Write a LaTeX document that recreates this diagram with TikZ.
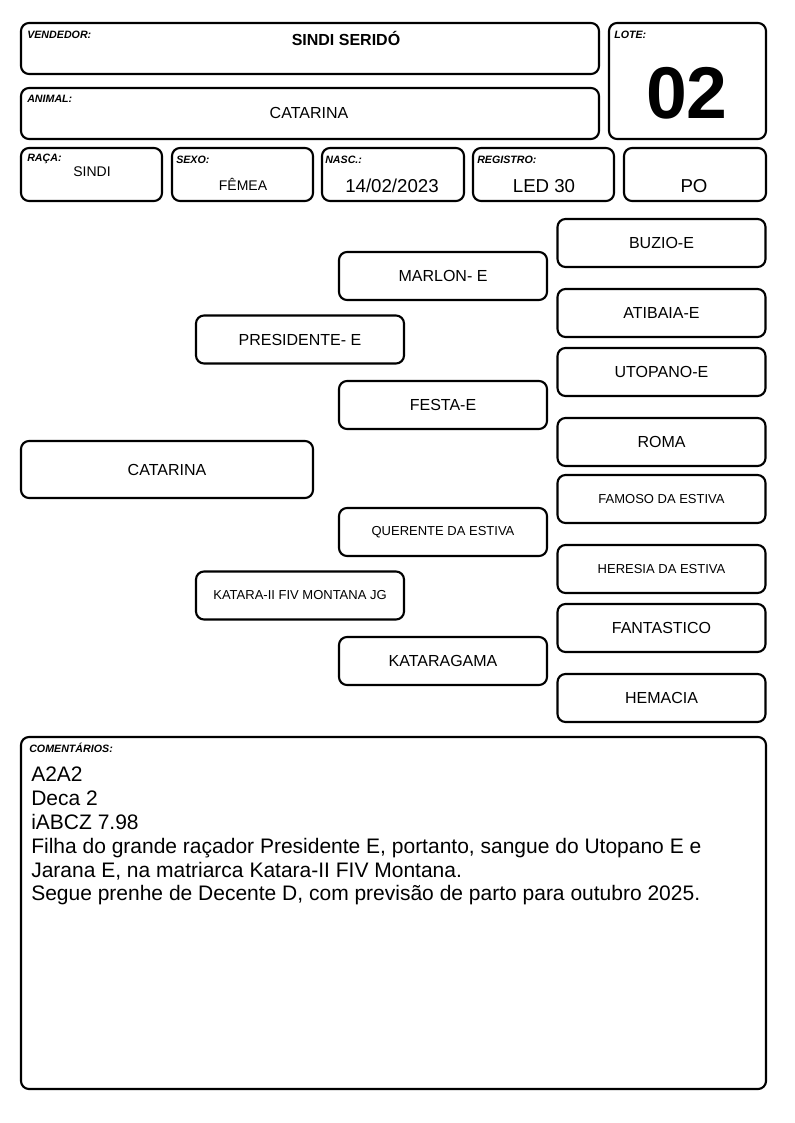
\documentclass[tikz,border=0pt]{standalone}
\usepackage{fontspec}
\setmainfont{Liberation Sans}
\usepackage{tikz}

\begin{document}
\begin{tikzpicture}[x=0.75pt, y=-0.75pt]
    \tikzstyle{campo} = [rectangle, draw, rounded corners=6pt, line width=1.6pt, inner sep=0pt]
    \tikzstyle{pedbox} = [campo, minimum width=156pt, minimum height=36pt, font=\fontsize{12}{14}\selectfont]
    \tikzstyle{pedsmall} = [pedbox, font=\fontsize{9.75}{11}\selectfont]
    \tikzstyle{rotulo} = [anchor=west, inner sep=0pt, font=\fontsize{8}{9}\selectfont\bfseries\itshape]
    \tikzstyle{valor} = [inner sep=0pt]
    \tikzset{wh/.style 2 args={minimum width=#1*0.75pt, minimum height=#2*0.75pt}}

    \useasboundingbox (0,0) rectangle (794,1123);

    % Header
    \node[campo, wh={578}{51}] (vend) at (310,48.5) {};
    \node[campo, wh={157}{116}] (lote) at (687.5,81) {};
    \node[campo, wh={578}{51}] (animal) at (310,113.5) {};
    \node[campo, wh={141}{53}] (raca) at (91.5,174.5) {};
    \node[campo, wh={141}{53}] (sexo) at (242.5,174.5) {};
    \node[campo, wh={142}{53}] (nasc) at (393,174.5) {};
    \node[campo, wh={141}{53}] (registro) at (543.5,174.5) {};
    \node[campo, wh={142}{53}] (po) at (695,174.5) {};

    \node[rotulo] (lvend) at (27,35) {VENDEDOR:};
    \node[rotulo] (llote) at (614,35) {LOTE:};
    \node[rotulo] (lanimal) at (27,99) {ANIMAL:};
    \node[rotulo] (lraca) at (27,159) {RAÇA:};
    \node[rotulo] (lsexo) at (176,160) {SEXO:};
    \node[rotulo] (lnasc) at (325,160) {NASC.:};
    \node[rotulo] (lregistro) at (477,160) {REGISTRO:};

    \node[valor, font=\fontsize{12}{14}\selectfont\bfseries] (vvend) at (346,38) {SINDI SERIDÓ};
    \node[valor, font=\fontsize{55}{60}\selectfont\bfseries] (vlote) at (687,93) {02};
    \node[valor, font=\fontsize{12}{14}\selectfont] (vanimal) at (309,113) {CATARINA};
    \node[valor, font=\fontsize{10.5}{12}\selectfont] (vraca) at (92,172) {SINDI};
    \node[valor, font=\fontsize{10.5}{12}\selectfont] (vsexo) at (243,184) {FÊMEA};
    \node[valor, font=\fontsize{14}{16}\selectfont] (vnasc) at (392,186) {14/02/2023};
    \node[valor, font=\fontsize{14}{16}\selectfont] (vregistro) at (544,186) {LED 30};
    \node[valor, font=\fontsize{14}{16}\selectfont] (vpo) at (694,186) {PO};

    % Pedigree
    \node[pedbox, wh={292}{57}] (cat) at (167,469.5) {CATARINA};
    \node[pedbox] (pres) at (300,339.5) {PRESIDENTE- E};
    \node[pedsmall] (katara) at (300,595.5) {KATARA-II FIV MONTANA JG};
    \node[pedbox] (marlon) at (443,276) {MARLON- E};
    \node[pedbox] (festa) at (443,405) {FESTA-E};
    \node[pedsmall] (querente) at (443,532) {QUERENTE DA ESTIVA};
    \node[pedbox] (kataragama) at (443,661) {KATARAGAMA};
    \node[pedbox] (buzio) at (661.5,243) {BUZIO-E};
    \node[pedbox] (atibaia) at (661.5,313) {ATIBAIA-E};
    \node[pedbox] (utopano) at (661.5,372) {UTOPANO-E};
    \node[pedbox] (roma) at (661.5,442) {ROMA};
    \node[pedsmall] (famoso) at (661.5,499) {FAMOSO DA ESTIVA};
    \node[pedsmall] (heresia) at (661.5,569) {HERESIA DA ESTIVA};
    \node[pedbox] (fantastico) at (661.5,628) {FANTASTICO};
    \node[pedbox] (hemacia) at (661.5,698) {HEMACIA};

    % Comments
    \node[campo, wh={745}{352}] (coment) at (393.5,913) {};
    \node[rotulo] (lcoment) at (29,748) {COMENTÁRIOS:};
    \node[anchor=north west, inner sep=0pt, align=left, font=\fontsize{15.75}{17.85}\selectfont] (tcoment) at (31,767) {A2A2\\
        Deca 2\\
        iABCZ 7.98\\
        Filha do grande raçador Presidente E, portanto, sangue do Utopano E e\\
        Jarana E, na matriarca Katara-II FIV Montana.\\
        Segue prenhe de Decente D, com previsão de parto para outubro 2025.};

\end{tikzpicture}
\end{document}
